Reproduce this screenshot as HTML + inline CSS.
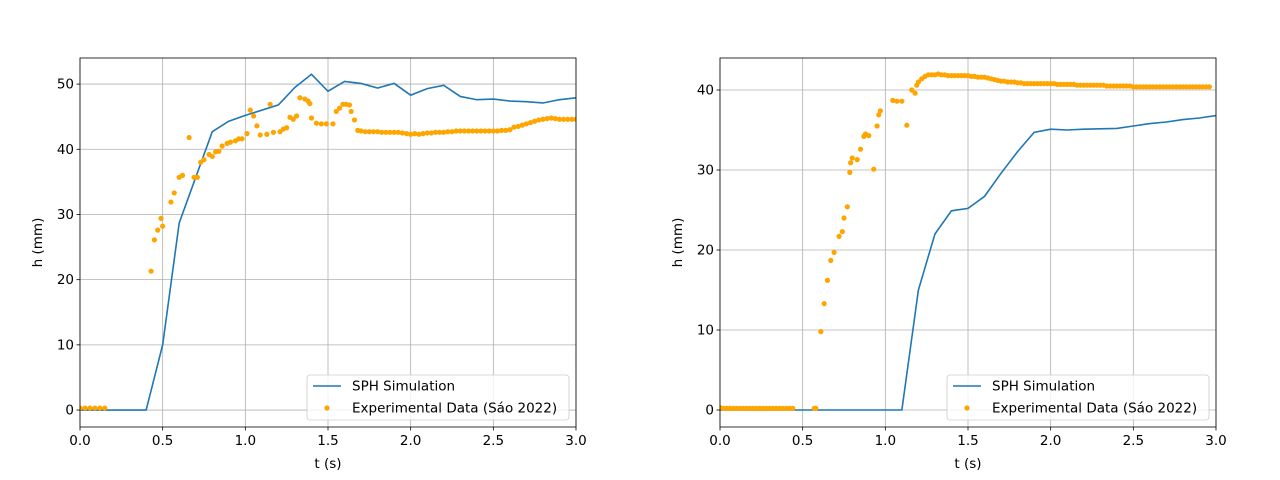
<!DOCTYPE html>
<html><head><meta charset="utf-8"><style>body{margin:0;background:#fff}svg{display:block;font-family:"DejaVu Sans","Liberation Sans",sans-serif}</style></head>
<body><svg id="fig" width="1280" height="480"></svg>
<script>
const leftSimT=[0,0.4,0.5,0.6,0.8,0.9,1.0,1.2,1.3,1.4,1.5,1.6,1.7,1.8,1.9,2.0,2.1,2.2,2.3,2.4,2.5,2.6,2.7,2.8,2.9,3.0];
const leftSimH=[0,0,10,28.7,42.7,44.3,45.2,46.8,49.5,51.5,48.9,50.4,50.1,49.4,50.1,48.3,49.3,49.8,48.1,47.6,47.7,47.4,47.3,47.1,47.6,47.9];
const leftExpT=[0,0.03,0.06,0.09,0.12,0.15,0.43,0.45,0.47,0.49,0.5,0.55,0.57,0.6,0.62,0.66,0.69,0.71,0.73,0.75,0.78,0.8,0.82,0.84,0.86,0.89,0.91,0.94,0.96,0.98,1.01,1.03,1.05,1.07,1.09,1.13,1.15,1.17,1.21,1.23,1.25,1.27,1.29,1.31,1.33,1.36,1.38,1.39,1.4,1.43,1.46,1.49,1.53,1.55,1.57,1.59,1.61,1.63,1.64,1.66,1.68,1.7,1.725,1.75,1.775,1.8,1.825,1.85,1.875,1.9,1.925,1.95,1.975,2.0,2.025,2.05,2.075,2.1,2.125,2.15,2.175,2.2,2.225,2.25,2.275,2.3,2.325,2.35,2.375,2.4,2.425,2.45,2.475,2.5,2.525,2.55,2.575,2.6,2.625,2.65,2.675,2.7,2.725,2.75,2.775,2.8,2.825,2.85,2.875,2.9,2.925,2.95,2.975,3.0];
const leftExpH=[0.3,0.3,0.3,0.3,0.3,0.3,21.3,26.1,27.6,29.4,28.2,31.9,33.3,35.7,36.0,41.8,35.7,35.7,38.0,38.4,39.2,38.9,39.6,39.7,40.5,40.9,41.1,41.3,41.6,41.6,42.4,46.0,45.1,43.6,42.2,42.3,46.9,42.6,42.7,43.1,43.3,44.9,44.6,45.1,47.9,47.7,47.4,47.0,44.8,44.0,43.9,43.9,43.9,45.8,46.3,46.9,46.9,46.8,45.8,44.5,42.9,42.8,42.7,42.7,42.7,42.7,42.6,42.6,42.6,42.6,42.6,42.5,42.4,42.3,42.4,42.3,42.4,42.5,42.5,42.6,42.6,42.6,42.7,42.7,42.8,42.8,42.8,42.8,42.8,42.8,42.8,42.8,42.8,42.8,42.8,42.9,42.9,43.0,43.4,43.5,43.7,43.9,44.1,44.3,44.5,44.6,44.7,44.8,44.7,44.6,44.6,44.6,44.6,44.6];
const rightSimT=[0,1.1,1.2,1.3,1.4,1.5,1.6,1.7,1.8,1.9,2.0,2.1,2.2,2.3,2.4,2.5,2.6,2.7,2.8,2.9,3.0];
const rightSimH=[0,0,15,22,24.9,25.2,26.7,29.6,32.3,34.7,35.1,35.0,35.1,35.15,35.2,35.5,35.8,36.0,36.3,36.5,36.8];
const rightExpT=[0,0.02,0.04,0.06,0.08,0.1,0.12,0.14,0.16,0.18,0.2,0.22,0.24,0.26,0.28,0.3,0.32,0.34,0.36,0.38,0.4,0.42,0.44,0.57,0.58,0.61,0.63,0.65,0.67,0.69,0.72,0.74,0.75,0.77,0.785,0.79,0.8,0.83,0.85,0.87,0.88,0.9,0.93,0.95,0.96,0.97,1.045,1.07,1.1,1.13,1.16,1.18,1.19,1.2,1.22,1.24,1.26,1.28,1.3,1.32,1.34,1.36,1.38,1.4,1.42,1.44,1.46,1.48,1.5,1.52,1.54,1.56,1.58,1.6,1.62,1.64,1.66,1.68,1.7,1.72,1.74,1.76,1.78,1.8,1.82,1.84,1.86,1.88,1.9,1.92,1.94,1.96,1.98,2.0,2.02,2.04,2.06,2.08,2.1,2.12,2.14,2.16,2.18,2.2,2.22,2.24,2.26,2.28,2.3,2.32,2.34,2.36,2.38,2.4,2.42,2.44,2.46,2.48,2.5,2.52,2.54,2.56,2.58,2.6,2.62,2.64,2.66,2.68,2.7,2.72,2.74,2.76,2.78,2.8,2.82,2.84,2.86,2.88,2.9,2.92,2.94,2.96,2.98,3.0];
const rightExpH=[0.3,0.2,0.2,0.2,0.2,0.2,0.2,0.2,0.2,0.2,0.2,0.2,0.2,0.2,0.2,0.2,0.2,0.2,0.2,0.2,0.2,0.2,0.2,0.2,0.2,9.8,13.3,16.2,18.7,19.7,21.7,22.3,24.0,25.4,29.7,30.9,31.5,31.3,32.6,34.2,34.5,34.3,30.1,35.5,36.9,37.4,38.7,38.6,38.6,35.6,40.0,39.6,40.6,41.0,41.4,41.7,41.9,41.9,41.9,42.0,41.9,41.9,41.8,41.8,41.8,41.8,41.8,41.8,41.8,41.7,41.7,41.6,41.6,41.6,41.5,41.4,41.3,41.2,41.1,41.1,41.0,41.0,41.0,40.9,40.9,40.8,40.8,40.8,40.8,40.8,40.8,40.8,40.8,40.8,40.8,40.7,40.7,40.7,40.7,40.7,40.7,40.6,40.6,40.6,40.6,40.6,40.6,40.6,40.6,40.6,40.5,40.5,40.5,40.5,40.5,40.5,40.5,40.5,40.4,40.4,40.4,40.4,40.4,40.4,40.4,40.4,40.4,40.4,40.4,40.4,40.4,40.4,40.4,40.4,40.4,40.4,40.4,40.4,40.4,40.4,40.4,40.4];
const xTicks=[0,0.5,1.0,1.5,2.0,2.5,3.0];
const xTickLabels=["0.0","0.5","1.0","1.5","2.0","2.5","3.0"];
const leftYTicks=[0,10,20,30,40,50];
const rightYTicks=[0,10,20,30,40];

const NS="http://www.w3.org/2000/svg",svg=document.getElementById('fig');
function mk(tag,attrs,parent,text){const e=document.createElementNS(NS,tag);for(const k in attrs)e.setAttribute(k,attrs[k]);if(text!==undefined)e.textContent=text;(parent||svg).appendChild(e);return e;}
function panel(side,x0,ymin,ymax,yTicks,simT,simH,expT,expH){
  const x1=x0+496,yt=58,yb=427;
  const sx=t=>x0+(t-0)/(3-0)*496, sy=h=>yb-(h-ymin)/(ymax-ymin)*(yb-yt);
  const g=mk('g',{});
  
  
  xTicks.forEach((t,i)=>{const x=sx(t);
    const l=mk('line',{x1:x,x2:x,y1:yt,y2:yb,stroke:'#b0b0b0','stroke-width':0.8},g);
    
    mk('line',{x1:x,x2:x,y1:yb,y2:yb+3.5,stroke:'#000','stroke-width':0.8},g);
    const tx=mk('text',{x:x,y:yb+18,'text-anchor':'middle','font-size':13.5},g,xTickLabels[i]);
    });
  yTicks.forEach(v=>{const y=sy(v);
    const l=mk('line',{x1:x0,x2:x1,y1:y,y2:y,stroke:'#b0b0b0','stroke-width':0.8},g);
    
    mk('line',{x1:x0-3.5,x2:x0,y1:y,y2:y,stroke:'#000','stroke-width':0.8},g);
    const tx=mk('text',{x:x0-6,y:y+4.5,'text-anchor':'end','font-size':13.5},g,String(v));
    });
  const cp=mk('clipPath',{id:'cp'+side},g);mk('rect',{x:x0,y:yt,width:496,height:yb-yt},cp);
  const line=mk('polyline',{points:simT.map((t,i)=>sx(t)+','+sy(simH[i])).join(' '),fill:'none',stroke:'#1f77b4','stroke-width':1.6,'clip-path':'url(#cp'+side+')'},g);
  
  expT.forEach((t,i)=>{const c=mk('circle',{cx:sx(t),cy:sy(expH[i]),r:2.6,fill:'#ffa500','clip-path':'url(#cp'+side+')'},g);
    });
  const fr=mk('rect',{x:x0,y:yt,width:496,height:yb-yt,fill:'none',stroke:'#000','stroke-width':0.8},g);
  
  const xl=mk('text',{x:x0+248,y:468,'text-anchor':'middle','font-size':13.5},g,'t (s)');
  
  const yl=mk('text',{transform:`translate(${x0-38},${(yt+yb)/2}) rotate(-90)`,'text-anchor':'middle','font-size':13.5},g,'h (mm)');
  
  const lg=mk('g',{},g);
  
  const lx=x1-269,ly=375;
  mk('rect',{x:lx,y:ly,width:262,height:45,rx:3,fill:'#fff','fill-opacity':0.8,stroke:'#cccccc','stroke-width':0.8},lg);
  mk('line',{x1:lx+6,x2:lx+34,y1:ly+11,y2:ly+11,stroke:'#1f77b4','stroke-width':1.6},lg);
  const t1=mk('text',{x:lx+45,y:ly+15.5,'font-size':13.5},lg,'SPH Simulation');
  
  mk('circle',{cx:lx+20,cy:ly+33,r:2.6,fill:'#ffa500'},lg);
  const t2=mk('text',{x:lx+45,y:ly+37.5,'font-size':13.5},lg,'Experimental Data (Sáo 2022)');
  
}
panel('left',80,-2.6,54.0,leftYTicks,leftSimT,leftSimH,leftExpT,leftExpH);
panel('right',720,-2.125,44.0,rightYTicks,rightSimT,rightSimH,rightExpT,rightExpH);
</script></body></html>
